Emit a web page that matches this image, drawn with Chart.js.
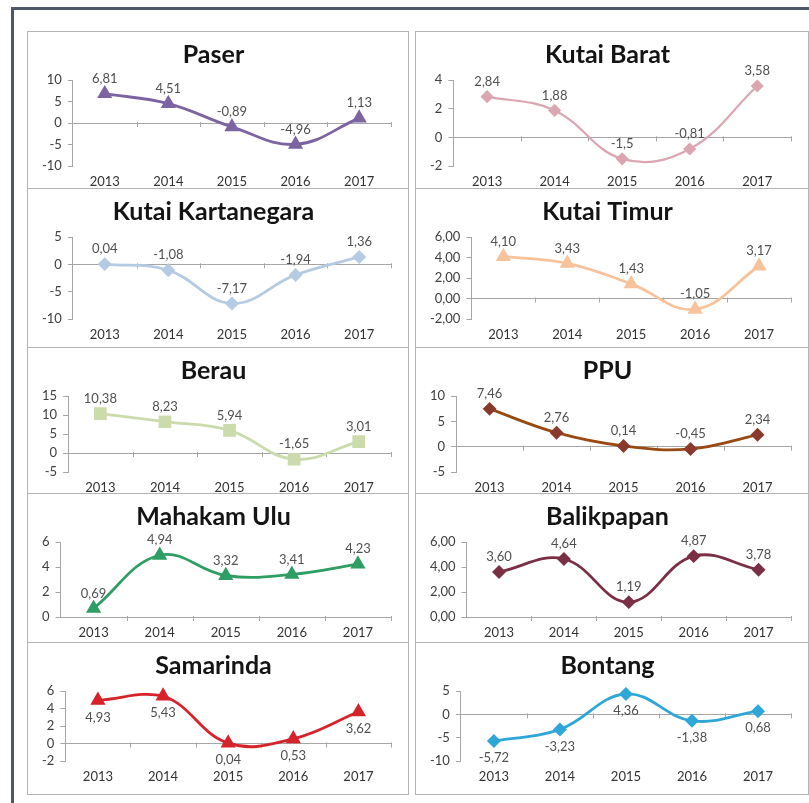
<!DOCTYPE html>
<html>
<head>
<meta charset="utf-8">
<script src="https://cdn.jsdelivr.net/npm/chart.js@4.4.0/dist/chart.umd.min.js"></script>
<style>
  body { margin: 0; background: #fff; width: 809px; height: 803px; overflow: hidden; position: relative; }
  #frame { position: absolute; left: 11px; top: 7px; width: 820px; height: 820px; border: 3px solid #4a5867; box-sizing: border-box; }
  .panel { position: absolute; box-sizing: border-box; border: 1px solid #b4b4b4; background: #fff; }
  .panel .box { position: relative; width: 100%; height: 100%; }
</style>
</head>
<body>
<div id="frame"></div>
<div id="panels"></div>
<script>
const years = ['2013', '2014', '2015', '2016', '2017'];

const paser = [6.81, 4.51, -0.89, -4.96, 1.13];
const kutaiBarat = [2.84, 1.88, -1.5, -0.81, 3.58];
const kutaiKartanegara = [0.04, -1.08, -7.17, -1.94, 1.36];
const kutaiTimur = [4.10, 3.43, 1.43, -1.05, 3.17];
const berau = [10.38, 8.23, 5.94, -1.65, 3.01];
const ppu = [7.46, 2.76, 0.14, -0.45, 2.34];
const mahakamUlu = [0.69, 4.94, 3.32, 3.41, 4.23];
const balikpapan = [3.60, 4.64, 1.19, 4.87, 3.78];
const samarinda = [4.93, 5.43, 0.04, 0.53, 3.62];
const bontang = [-5.72, -3.23, 4.36, -1.38, 0.68];

// y axis ranges per chart: [min, max, step]
const paserAxis = [-10, 10, 5];
const kutaiBaratAxis = [-2, 4, 2];
const kutaiKartanegaraAxis = [-10, 5, 5];
const kutaiTimurAxis = [-2, 6, 2];
const berauAxis = [-5, 15, 5];
const ppuAxis = [-5, 10, 5];
const mahakamUluAxis = [0, 6, 2];
const balikpapanAxis = [0, 6, 2];
const samarindaAxis = [-2, 6, 2];
const bontangAxis = [-10, 5, 5];

const rowTops = [31, 188, 347, 493, 642, 794];
// x tick padding is counted twice by chart.js, so pull the plot down a bit
const rowBottomPad = [-9.6, -3.6, -10.6, -6.6, 1.4];

const panels = [
    { title: 'Paser', data: paser, axis: paserAxis, color: '#7c64a2', point: 'triangle', r: 6, col: 0, row: 0 },
    { title: 'Kutai Barat', data: kutaiBarat, axis: kutaiBaratAxis, color: '#dba6b1', point: 'rectRot', r: 5, col: 1, row: 0, width: 2.2 },
    { title: 'Kutai Kartanegara', data: kutaiKartanegara, axis: kutaiKartanegaraAxis, color: '#b5cbe3', point: 'rectRot', r: 5, col: 0, row: 1 },
    { title: 'Kutai Timur', data: kutaiTimur, axis: kutaiTimurAxis, color: '#f8c29b', point: 'triangle', r: 6, col: 1, row: 1, fixed: true },
    { title: 'Berau', data: berau, axis: berauAxis, color: '#cbdbab', point: 'rect', r: 7, col: 0, row: 2 },
    { title: 'PPU', data: ppu, axis: ppuAxis, color: '#984a12', pointColor: '#8a3a2c', point: 'rectRot', r: 5, col: 1, row: 2 },
    { title: 'Mahakam Ulu', data: mahakamUlu, axis: mahakamUluAxis, color: '#2e9e63', point: 'triangle', r: 6, col: 0, row: 3 },
    { title: 'Balikpapan', data: balikpapan, axis: balikpapanAxis, color: '#7a2f45', point: 'rectRot', r: 5, col: 1, row: 3, fixed: true },
    { title: 'Samarinda', data: samarinda, axis: samarindaAxis, color: '#d6232a', point: 'triangle', r: 6, col: 0, row: 4, below: true },
    { title: 'Bontang', data: bontang, axis: bontangAxis, color: '#2ea7d8', point: 'rectRot', r: 5, col: 1, row: 4, below: true }
];

const colX = [27, 415];
const colW = [382, 394];

function fmt(v, fixed) {
    return (fixed ? v.toFixed(2) : String(v)).replace('.', ',');
}

// value labels drawn next to each point
const valueLabels = {
    id: 'valueLabels',
    afterDatasetsDraw(chart, args, opts) {
        const ctx = chart.ctx;
        const meta = chart.getDatasetMeta(0);
        const values = chart.data.datasets[0].data;
        ctx.save();
        ctx.font = '13px Lato';
        ctx.fillStyle = '#505050';
        ctx.textAlign = 'center';
        ctx.textBaseline = 'middle';
        meta.data.forEach(function (pt, i) {
            const dy = opts.below ? 17 : -15;
            ctx.fillText(fmt(values[i], opts.fixed), pt.x, pt.y + dy);
        });
        ctx.restore();
    }
};

// small tick marks on the zero line between categories
const zeroTicks = {
    id: 'zeroTicks',
    beforeDatasetsDraw(chart) {
        const ctx = chart.ctx;
        const xs = chart.scales.x;
        const y0 = chart.scales.y.getPixelForValue(0);
        const half = (xs.getPixelForValue(1) - xs.getPixelForValue(0)) / 2;
        ctx.save();
        ctx.strokeStyle = '#a6a6a6';
        ctx.lineWidth = 1;
        ctx.beginPath();
        for (let i = 0; i < years.length; i++) {
            const px = Math.round(xs.getPixelForValue(i) + half) + 0.5;
            ctx.moveTo(px, y0 - 1);
            ctx.lineTo(px, y0 + 4);
        }
        ctx.stroke();
        ctx.restore();
    }
};

Chart.defaults.font.family = 'Lato';
Chart.defaults.color = '#404040';

const holder = document.getElementById('panels');
panels.forEach(function (p) {
    const div = document.createElement('div');
    div.className = 'panel';
    div.style.left = colX[p.col] + 'px';
    div.style.top = rowTops[p.row] + 'px';
    div.style.width = colW[p.col] + 'px';
    div.style.height = (rowTops[p.row + 1] - rowTops[p.row] + 1) + 'px';
    const box = document.createElement('div');
    box.className = 'box';
    const canvas = document.createElement('canvas');
    box.appendChild(canvas);
    div.appendChild(box);
    holder.appendChild(div);

    new Chart(canvas.getContext('2d'), {
        type: 'line',
        data: {
            labels: years,
            datasets: [{
                data: p.data,
                borderColor: p.color,
                backgroundColor: p.pointColor || p.color,
                pointBackgroundColor: p.pointColor || p.color,
                pointBorderColor: p.pointColor || p.color,
                pointStyle: p.point,
                pointRadius: p.r,
                borderWidth: p.width || 2.8,
                tension: 0.4,
                clip: false
            }]
        },
        options: {
            responsive: true,
            maintainAspectRatio: false,
            animation: false,
            layout: {
                padding: { left: 8, right: 17, top: 0, bottom: rowBottomPad[p.row] }
            },
            plugins: {
                legend: { display: false },
                tooltip: { enabled: false },
                title: {
                    display: true,
                    text: p.title,
                    color: '#141414',
                    font: { family: 'Lato', size: 25, weight: 'bold' },
                    padding: { top: 8, bottom: 10 }
                },
                valueLabels: { below: !!p.below, fixed: !!p.fixed }
            },
            scales: {
                x: {
                    offset: true,
                    grid: { display: false, drawTicks: false },
                    border: { display: false },
                    ticks: { color: '#333', font: { size: 13 }, padding: 8, maxRotation: 0 }
                },
                y: {
                    min: p.axis[0],
                    max: p.axis[1],
                    border: { display: true, color: '#a6a6a6' },
                    grid: {
                        color: function (c) { return c.tick && c.tick.value === 0 ? '#a6a6a6' : 'rgba(0,0,0,0)'; },
                        tickColor: '#a6a6a6',
                        tickLength: 5
                    },
                    ticks: {
                        stepSize: p.axis[2],
                        autoSkip: false,
                        color: '#404040',
                        font: { size: 13 },
                        padding: 6,
                        callback: function (v) { return fmt(v, p.fixed); }
                    }
                }
            }
        },
        plugins: [valueLabels, zeroTicks]
    });
});
</script>
</body>
</html>
